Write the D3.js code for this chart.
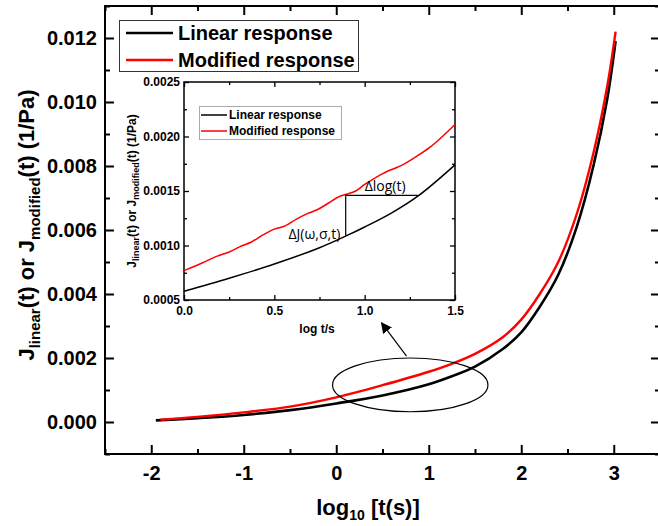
<!DOCTYPE html>
<html>
<head>
<meta charset="utf-8">
<script src="https://cdn.jsdelivr.net/npm/d3@7/dist/d3.min.js"></script>
<style>
  body { margin: 0; background: #fff; }
  svg { display: block; font-family: "Liberation Sans", Arial, sans-serif; }
  .axis path, .axis line { stroke: #000; }
  .axis text { font-weight: bold; fill: #000; }
</style>
</head>
<body>
<div id="chart"></div>
<script>
// main chart: log10 t vs compliance
var linearLogT = [-1.95, -1.5, -1.0, -0.5, 0.0, 0.5, 1.0, 1.25, 1.5, 1.8, 2.0, 2.2, 2.4, 2.6, 2.78, 2.93, 3.02];
var linearJ    = [0.00005, 0.00012, 0.00022, 0.00037, 0.00058, 0.00083, 0.00118, 0.00143, 0.00173, 0.00228, 0.0028, 0.0036, 0.0046, 0.0061, 0.008, 0.0101, 0.0119];
var modLogT    = [-1.9, -1.5, -1.0, -0.5, 0.0, 0.5, 1.0, 1.25, 1.5, 1.8, 2.0, 2.2, 2.4, 2.6, 2.78, 2.93, 3.02];
var modJ       = [0.00007, 0.00016, 0.00030, 0.00048, 0.00077, 0.00115, 0.00157, 0.00182, 0.00213, 0.00265, 0.0032, 0.004, 0.005, 0.0065, 0.0084, 0.0105, 0.0122];

// inset: log t/s between 0 and 1.5
var insetLinT  = [0.0, 0.25, 0.5, 0.75, 0.9, 1.0, 1.15, 1.3, 1.5];
var insetLinJ  = [0.00058, 0.0007, 0.00083, 0.00098, 0.00109, 0.00117, 0.0013, 0.00146, 0.00174];
var insetModT  = [0.0, 0.1, 0.18, 0.25, 0.31, 0.37, 0.44, 0.5, 0.56, 0.62, 0.68, 0.74, 0.8, 0.86, 0.9, 0.95, 1.0, 1.1, 1.21, 1.28, 1.36, 1.43, 1.5];
var insetModJ  = [0.00077, 0.00084, 0.0009, 0.00094, 0.00099, 0.00103, 0.0011, 0.00115, 0.00118, 0.00124, 0.00129, 0.00133, 0.00139, 0.00145, 0.00147, 0.0015, 0.00156, 0.00166, 0.00174, 0.00181, 0.0019, 0.002, 0.00211];

var seriesNames = ["Linear response", "Modified response"];
var seriesColors = ["#000", "#ff0000"];

var mainXTicks = [-2, -1, 0, 1, 2, 3];
var mainYTicks = [0, 0.002, 0.004, 0.006, 0.008, 0.010, 0.012];
var insetXTicks = [0, 0.5, 1.0, 1.5];
var insetYTicks = [0.0005, 0.001, 0.0015, 0.002, 0.0025];

// annotation geometry in data units
var ellipseMain = { cx: 0.8, cy: 0.00116, rx: 0.84, ry: 0.00084 };
var arrowMain = { x1: 0.76, y1: 0.00206, x2: 0.49, y2: 0.0031 };
var deltaStep = { x0: 0.895, x1: 1.295, yLow: 0.00109, yHigh: 0.00146 };

var W = 658, H = 526;
var svg = d3.select('#chart').append('svg').attr('width', W).attr('height', H);

var x = d3.scaleLinear().domain([-2.5, 3.5]).range([105, 660]);
var y = d3.scaleLinear().domain([-0.001, 0.013]).range([454, 6]);

var zip = function(a, b) { return a.map(function(v, i) { return [v, b[i]]; }); };

// frame
svg.append('rect').attr('x', x(-2.5)).attr('y', y(0.013))
  .attr('width', x(3.5) - x(-2.5)).attr('height', y(-0.001) - y(0.013))
  .attr('fill', 'none').attr('stroke', '#000').attr('stroke-width', 2);

var xMinor = d3.range(-2.5, 3.51, 0.5).filter(function(d) { return d % 1 !== 0; });
var yMinor = d3.range(-0.001, 0.0131, 0.002);

function addAxis(g, axis, cls) {
  g.attr('class', 'axis ' + (cls || '')).call(axis);
  g.select('.domain').remove();
  g.selectAll('line').attr('stroke-width', 2);
  return g;
}

var fmtMain = d3.format('.3f');
var fmtInt = function(d) { return String(d); };   // plain hyphen minus like the original
addAxis(svg.append('g').attr('transform', 'translate(0,' + y(-0.001) + ')'),
  d3.axisBottom(x).tickValues(mainXTicks).tickSize(-9).tickPadding(12).tickFormat(fmtInt))
  .selectAll('text').style('font-size', '20px');
addAxis(svg.append('g').attr('transform', 'translate(0,' + y(-0.001) + ')'),
  d3.axisBottom(x).tickValues(xMinor).tickSize(-5).tickFormat(''));
addAxis(svg.append('g').attr('transform', 'translate(0,' + y(0.013) + ')'),
  d3.axisTop(x).tickValues(mainXTicks).tickSize(-9).tickFormat(''));
addAxis(svg.append('g').attr('transform', 'translate(0,' + y(0.013) + ')'),
  d3.axisTop(x).tickValues(xMinor).tickSize(-5).tickFormat(''));
addAxis(svg.append('g').attr('transform', 'translate(' + x(-2.5) + ',0)'),
  d3.axisLeft(y).tickValues(mainYTicks).tickSize(-9).tickPadding(8).tickFormat(fmtMain))
  .selectAll('text').style('font-size', '20px');
addAxis(svg.append('g').attr('transform', 'translate(' + x(-2.5) + ',0)'),
  d3.axisLeft(y).tickValues(yMinor).tickSize(-5).tickFormat(''));
addAxis(svg.append('g').attr('transform', 'translate(' + x(3.5) + ',0)'),
  d3.axisRight(y).tickValues(mainYTicks).tickSize(-9).tickFormat(''));
addAxis(svg.append('g').attr('transform', 'translate(' + x(3.5) + ',0)'),
  d3.axisRight(y).tickValues(yMinor).tickSize(-5).tickFormat(''));

// axis titles
var xt = svg.append('text').attr('x', 368).attr('y', 515).attr('text-anchor', 'middle')
  .style('font-size', '22px').style('font-weight', 'bold');
xt.append('tspan').text('log');
xt.append('tspan').attr('dy', 5).style('font-size', '14px').text('10');
xt.append('tspan').attr('dy', -5).text(' [t(s)]');

var yt = svg.append('text').attr('transform', 'translate(34,225) rotate(-90)').attr('text-anchor', 'middle')
  .style('font-size', '22px').style('font-weight', 'bold');
yt.append('tspan').text('J');
yt.append('tspan').attr('dy', 6).style('font-size', '15px').text('linear');
yt.append('tspan').attr('dy', -6).text('(t) or J');
yt.append('tspan').attr('dy', 6).style('font-size', '15px').text('modified');
yt.append('tspan').attr('dy', -6).text('(t) (1/Pa)');

// main curves
var line = d3.line().x(function(d) { return x(d[0]); }).y(function(d) { return y(d[1]); }).curve(d3.curveCatmullRom.alpha(0.5));
svg.append('path').datum(zip(linearLogT, linearJ)).attr('d', line)
  .attr('fill', 'none').attr('stroke', seriesColors[0]).attr('stroke-width', 2.6);
svg.append('path').datum(zip(modLogT, modJ)).attr('d', line)
  .attr('fill', 'none').attr('stroke', seriesColors[1]).attr('stroke-width', 2.4);

// ellipse + arrow
svg.append('ellipse').attr('cx', x(ellipseMain.cx)).attr('cy', y(ellipseMain.cy))
  .attr('rx', x(ellipseMain.rx) - x(0)).attr('ry', y(0) - y(ellipseMain.ry))
  .attr('fill', 'none').attr('stroke', '#000').attr('stroke-width', 1.2);
svg.append('defs').append('marker').attr('id', 'arr').attr('viewBox', '0 0 10 10')
  .attr('refX', 9).attr('refY', 5).attr('markerWidth', 11).attr('markerHeight', 11)
  .attr('markerUnits', 'userSpaceOnUse').attr('orient', 'auto')
  .append('path').attr('d', 'M0,0L10,5L0,10z').attr('fill', '#000');
svg.append('line').attr('x1', x(arrowMain.x1)).attr('y1', y(arrowMain.y1))
  .attr('x2', x(arrowMain.x2)).attr('y2', y(arrowMain.y2))
  .attr('stroke', '#000').attr('stroke-width', 1.2).attr('marker-end', 'url(#arr)');

// main legend
var lg = svg.append('g');
lg.append('rect').attr('x', 119.5).attr('y', 20.5).attr('width', 239).attr('height', 51)
  .attr('fill', '#fff').attr('stroke', '#333').attr('stroke-width', 1);
seriesNames.forEach(function(name, i) {
  var yy = 33 + i * 27;
  lg.append('line').attr('x1', 126).attr('x2', 173).attr('y1', yy).attr('y2', yy)
    .attr('stroke', seriesColors[i]).attr('stroke-width', 2.6);
  lg.append('text').attr('x', 178).attr('y', yy + 7).text(name)
    .style('font-size', '20px').style('font-weight', 'bold');
});

// ---- inset ----
var ix = d3.scaleLinear().domain([0, 1.5]).range([184, 455]);
var iy = d3.scaleLinear().domain([0.0005, 0.0025]).range([300, 82]);
var inset = svg.append('g');
inset.append('rect').attr('x', ix(0)).attr('y', iy(0.0025))
  .attr('width', ix(1.5) - ix(0)).attr('height', iy(0.0005) - iy(0.0025))
  .attr('fill', '#fff').attr('stroke', '#000').attr('stroke-width', 1.5);

var ixMinor = [0.25, 0.75, 1.25];
var iyMinor = [0.00075, 0.00125, 0.00175, 0.00225];
function addInsetAxis(g, axis) {
  g.attr('class', 'axis').call(axis);
  g.select('.domain').remove();
  g.selectAll('line').attr('stroke-width', 1.3);
  g.selectAll('text').style('font-size', '12px');
  return g;
}
addInsetAxis(inset.append('g').attr('transform', 'translate(0,' + iy(0.0005) + ')'),
  d3.axisBottom(ix).tickValues(insetXTicks).tickSize(-5).tickPadding(6).tickFormat(d3.format('.1f')));
addInsetAxis(inset.append('g').attr('transform', 'translate(0,' + iy(0.0005) + ')'),
  d3.axisBottom(ix).tickValues(ixMinor).tickSize(-3).tickFormat(''));
addInsetAxis(inset.append('g').attr('transform', 'translate(0,' + iy(0.0025) + ')'),
  d3.axisTop(ix).tickValues(insetXTicks).tickSize(-5).tickFormat(''));
addInsetAxis(inset.append('g').attr('transform', 'translate(0,' + iy(0.0025) + ')'),
  d3.axisTop(ix).tickValues(ixMinor).tickSize(-3).tickFormat(''));
addInsetAxis(inset.append('g').attr('transform', 'translate(' + ix(0) + ',0)'),
  d3.axisLeft(iy).tickValues(insetYTicks).tickSize(-5).tickPadding(4).tickFormat(d3.format('.4f')));
addInsetAxis(inset.append('g').attr('transform', 'translate(' + ix(0) + ',0)'),
  d3.axisLeft(iy).tickValues(iyMinor).tickSize(-3).tickFormat(''));
addInsetAxis(inset.append('g').attr('transform', 'translate(' + ix(1.5) + ',0)'),
  d3.axisRight(iy).tickValues(insetYTicks).tickSize(-5).tickFormat(''));
addInsetAxis(inset.append('g').attr('transform', 'translate(' + ix(1.5) + ',0)'),
  d3.axisRight(iy).tickValues(iyMinor).tickSize(-3).tickFormat(''));

inset.append('text').attr('x', 317).attr('y', 333).attr('text-anchor', 'middle')
  .style('font-size', '12px').style('font-weight', 'bold').text('log t/s');
var iyt = inset.append('text').attr('transform', 'translate(136,191) rotate(-90)').attr('text-anchor', 'middle')
  .style('font-size', '12px').style('font-weight', 'bold');
iyt.append('tspan').text('J');
iyt.append('tspan').attr('dy', 3).style('font-size', '9px').text('linear');
iyt.append('tspan').attr('dy', -3).text('(t) or J');
iyt.append('tspan').attr('dy', 3).style('font-size', '9px').text('modified');
iyt.append('tspan').attr('dy', -3).text('(t) (1/Pa)');

var iline = d3.line().x(function(d) { return ix(d[0]); }).y(function(d) { return iy(d[1]); }).curve(d3.curveCatmullRom.alpha(0.5));
inset.append('path').datum(zip(insetLinT, insetLinJ)).attr('d', iline)
  .attr('fill', 'none').attr('stroke', seriesColors[0]).attr('stroke-width', 1.5);
inset.append('path').datum(zip(insetModT, insetModJ)).attr('d', iline)
  .attr('fill', 'none').attr('stroke', seriesColors[1]).attr('stroke-width', 1.5);

// delta annotation
inset.append('path')
  .attr('d', 'M' + ix(deltaStep.x0) + ',' + iy(deltaStep.yLow) + 'V' + iy(deltaStep.yHigh) + 'H' + ix(deltaStep.x1))
  .attr('fill', 'none').attr('stroke', '#000').attr('stroke-width', 1.2);
inset.append('text').attr('x', ix(0.865)).attr('y', iy(0.00106)).attr('text-anchor', 'end')
  .style('font-family', '"Open Sans", sans-serif').style('font-size', '14px').text('\u0394J(\u03c9,\u03c3,t)');
inset.append('text').attr('x', ix(1.0)).attr('y', iy(0.0015))
  .style('font-family', '"Open Sans", sans-serif').style('font-size', '14px').text('\u0394log(t)');

// inset legend
var ilg = inset.append('g');
ilg.append('rect').attr('x', 199.5).attr('y', 106.5).attr('width', 142).attr('height', 33)
  .attr('fill', '#fff').attr('stroke', '#aaa').attr('stroke-width', 1);
seriesNames.forEach(function(name, i) {
  var yy = 115 + i * 16;
  ilg.append('line').attr('x1', 201).attr('x2', 227).attr('y1', yy).attr('y2', yy)
    .attr('stroke', seriesColors[i]).attr('stroke-width', 1.5);
  ilg.append('text').attr('x', 229).attr('y', yy + 4).text(name)
    .style('font-size', '12px').style('font-weight', 'bold');
});
</script>
</body>
</html>
